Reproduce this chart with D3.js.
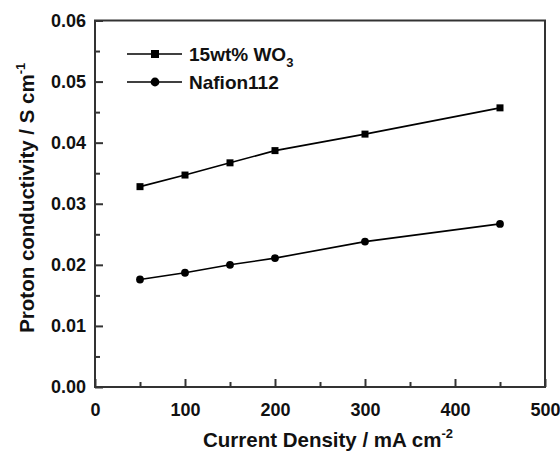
<!DOCTYPE html>
<html>
<head>
<meta charset="utf-8">
<script src="https://cdn.jsdelivr.net/npm/d3@7"></script>
<style>
  html, body { margin: 0; padding: 0; background: #fff; }
  svg { display: block; font-family: "Liberation Sans", Arial, sans-serif; font-weight: bold; }
</style>
</head>
<body>
<svg id="chart" width="560" height="452"></svg>
<script>
// Current density (mA cm^-2) at which conductivity was measured
const currentDensity = [50, 100, 150, 200, 300, 450];
// Proton conductivity (S cm^-1)
const wo3Composite = [0.0328, 0.0347, 0.0367, 0.0387, 0.0414, 0.0457];
const nafion112 = [0.0176, 0.0187, 0.0200, 0.0211, 0.0238, 0.0267];
const seriesNames = ["15wt% WO", "Nafion112"];
const xTicks = [0, 100, 200, 300, 400, 500];
const yTicks = [0.00, 0.01, 0.02, 0.03, 0.04, 0.05, 0.06];

const svg = d3.select("#chart");
const margin = { left: 95, right: 15, top: 20.5, bottom: 65 };
const W = 560, H = 452;

const x = d3.scaleLinear().domain([0, 500]).range([margin.left, W - margin.right]);
const y = d3.scaleLinear().domain([0, 0.06]).range([H - margin.bottom, margin.top]);

const axisColor = "#333";

// frame
svg.append("rect")
  .attr("x", x(0)).attr("y", y(0.06))
  .attr("width", x(500) - x(0)).attr("height", y(0) - y(0.06))
  .attr("fill", "none").attr("stroke", axisColor).attr("stroke-width", 2);

// bottom axis: inward ticks
const xAxis = d3.axisBottom(x).tickValues(xTicks).tickSizeInner(-8).tickSizeOuter(0).tickPadding(16);
const gx = svg.append("g").attr("transform", `translate(0,${y(0)})`).call(xAxis);
const xMinor = d3.axisBottom(x).tickValues([50, 150, 250, 350, 450]).tickSizeInner(-5).tickSizeOuter(0).tickFormat("");
const gxm = svg.append("g").attr("transform", `translate(0,${y(0)})`).call(xMinor);

// left axis
const yAxis = d3.axisLeft(y).tickValues(yTicks).tickSizeInner(-8).tickSizeOuter(0).tickPadding(9).tickFormat(d3.format(".2f"));
const gy = svg.append("g").attr("transform", `translate(${x(0)},0)`).call(yAxis);
const yMinor = d3.axisLeft(y).tickValues([0.005, 0.015, 0.025, 0.035, 0.045, 0.055]).tickSizeInner(-5).tickSizeOuter(0).tickFormat("");
const gym = svg.append("g").attr("transform", `translate(${x(0)},0)`).call(yMinor);

[gx, gxm, gy, gym].forEach(g => {
  g.select(".domain").remove();
  g.selectAll(".tick line").attr("stroke", axisColor).attr("stroke-width", 2);
  g.selectAll(".tick text").attr("fill", "#111").attr("font-size", 18)
    .attr("font-family", "'Liberation Sans', Arial, sans-serif").attr("font-weight", "bold");
});

// series
const series = [
  { name: seriesNames[0], values: wo3Composite, marker: "square" },
  { name: seriesNames[1], values: nafion112, marker: "circle" }
];

const line = d3.line().x((d, i) => x(currentDensity[i])).y(d => y(d));

function drawMarker(g, type, cx, cy, size) {
  if (type === "square") {
    g.append("rect").attr("x", cx - size / 2).attr("y", cy - size / 2)
      .attr("width", size).attr("height", size).attr("fill", "#000");
  } else {
    g.append("circle").attr("cx", cx).attr("cy", cy).attr("r", size / 2 + 0.4).attr("fill", "#000");
  }
}

series.forEach(s => {
  svg.append("path").datum(s.values)
    .attr("d", line).attr("fill", "none").attr("stroke", "#000").attr("stroke-width", 1.6);
  const g = svg.append("g");
  s.values.forEach((v, i) => drawMarker(g, s.marker, x(currentDensity[i]), y(v), 7));
});

// legend
const legend = svg.append("g");
const legendRows = [54, 82];
series.forEach((s, i) => {
  const ly = legendRows[i];
  legend.append("line").attr("x1", 127).attr("x2", 182).attr("y1", ly).attr("y2", ly)
    .attr("stroke", "#000").attr("stroke-width", 1.6);
  drawMarker(legend, s.marker, 155, ly, 8);
  const t = legend.append("text").attr("x", 189).attr("y", ly + 7)
    .attr("font-size", 19).attr("fill", "#111").text(s.name);
  if (i === 0) {
    t.append("tspan").attr("dy", 6).attr("font-size", 13).text("3");
  }
});

// axis titles
const xt = svg.append("text")
  .attr("x", (x(0) + x(500)) / 2 + 8).attr("y", 447)
  .attr("text-anchor", "middle").attr("font-size", 20.5).attr("fill", "#111")
  .text("Current Density / mA cm");
xt.append("tspan").attr("dy", -9).attr("font-size", 13).text("-2");

const yt = svg.append("text")
  .attr("transform", `translate(34,${(y(0) + y(0.06)) / 2 - 6}) rotate(-90)`)
  .attr("text-anchor", "middle").attr("font-size", 20.5).attr("fill", "#111")
  .text("Proton conductivity / S cm");
yt.append("tspan").attr("dy", -9).attr("font-size", 13).text("-1");
</script>
</body>
</html>
